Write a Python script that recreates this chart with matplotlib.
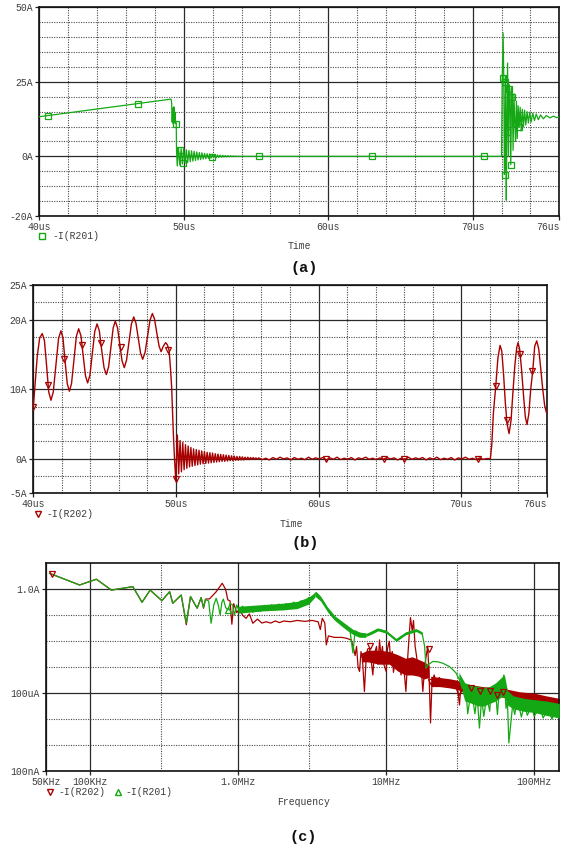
import numpy as np
import matplotlib
matplotlib.use("Agg")
import matplotlib.pyplot as plt
from matplotlib.lines import Line2D
from matplotlib.ticker import FixedLocator, NullFormatter

# ---------------- data: panel (a)  -I(R201) vs time (us) ----------------
a_main_t = [40.0, 49.12, 49.16, 49.20, 49.24, 49.28, 49.32, 49.36, 49.40, 49.44, 49.48, 49.50]
a_main_I = [13.3, 19.2, 18.2, 11.5, 16.2, 10.8, 16.6, 11.2, 14.8, 11.0, 11.2, 2.0]
a_ring1_t0 = 49.55
a_ring1_dt = 0.09
a_ring1_I = [-3.2, 2.8, -2.9, 2.6, -2.6, 2.4, -2.3, 2.2, -2.1, 2.0,
             -1.8, 1.9, -1.6, 1.7, -1.4, 1.5, -1.2, 1.3, -1.1, 1.2,
             -0.9, 1.0, -0.8, 0.9, -0.7, 0.8, -0.6, 0.7, -0.5, 0.6,
             -0.45, 0.5, -0.35, 0.4, -0.3, 0.35, -0.25, 0.3, -0.2, 0.25,
             -0.15, 0.2, -0.1, 0.15, -0.08, 0.1, -0.05, 0.06, -0.03, 0.0]
a_ring2_t = [72.00, 72.05, 72.11, 72.16, 72.20, 72.23, 72.28, 72.33, 72.37, 72.42,
             72.48, 72.53, 72.58, 72.64, 72.70, 72.75, 72.80, 72.86, 72.92, 72.97,
             73.03, 73.09, 73.15, 73.22, 73.29, 73.36, 73.44, 73.52, 73.60, 73.68,
             73.77, 73.86, 73.95, 74.05, 74.16, 74.28, 74.40, 74.55, 74.70, 74.90,
             75.10, 75.35, 75.60, 75.80, 76.00]
a_ring2_I = [0.0, 26.2, 41.4, 25.0, -6.1, -4.0, 27.0, -14.7, 8.1, 31.3,
             0.0, 24.0, 22.6, -2.8, 23.0, 19.8, 2.0, 21.0, 11.1, 5.0,
             18.5, 6.0, 17.0, 9.8, 16.5, 8.5, 15.8, 10.0, 15.5, 10.5,
             15.0, 11.2, 14.8, 11.5, 14.5, 12.0, 14.2, 12.3, 13.9, 12.6,
             13.7, 12.9, 13.5, 13.0, 13.2]
a_mark_t = [40.6, 46.8, 49.44, 49.74, 49.97, 51.94, 55.2, 63.0, 70.8,
            72.11, 72.23, 72.23, 72.37, 72.55, 72.64, 72.75, 72.94, 73.2]
a_mark_I = [13.7, 17.6, 11.0, 2.3, -2.1, -0.2, 0.0, 0.0, 0.0,
            26.2, 25.0, -6.1, 8.1, 22.6, -2.8, 19.8, 11.1, 9.8]

# ---------------- data: panel (b)  -I(R202) vs time (us) ----------------
b_main_t = [40.00, 40.12, 40.28, 40.45, 40.63, 40.78, 40.94, 41.08, 41.24,
            41.40, 41.58, 41.77, 41.94, 42.08, 42.23, 42.38, 42.53,
            42.68, 42.85, 43.02, 43.18, 43.34, 43.50, 43.66, 43.81,
            43.97, 44.14, 44.31, 44.47, 44.63, 44.79, 44.96, 45.12,
            45.28, 45.44, 45.60, 45.75, 45.91, 46.07, 46.22, 46.38,
            46.54, 46.71, 46.88, 47.04, 47.20, 47.36, 47.52, 47.67,
            47.84, 48.01, 48.18, 48.35, 48.50, 48.66, 48.82, 48.96,
            49.12, 49.28, 49.40, 49.52, 49.62, 49.70, 49.76, 49.82, 49.90, 49.99]
b_main_I = [7.4, 10.5, 14.8, 17.4, 18.0, 17.0, 13.2, 9.6, 8.4,
            9.6, 13.4, 17.3, 18.4, 17.4, 14.0, 10.8, 9.7,
            10.8, 14.2, 17.6, 18.7, 17.7, 14.8, 11.9, 10.9,
            12.0, 15.1, 18.3, 19.4, 18.4, 15.7, 13.1, 12.1,
            13.2, 16.0, 18.8, 19.8, 18.8, 16.4, 14.1, 13.1,
            14.2, 16.8, 19.4, 20.4, 19.5, 17.3, 15.2, 14.3,
            15.3, 17.6, 19.9, 20.9, 20.1, 18.1, 16.2, 15.4,
            16.2, 16.7, 16.4, 15.6, 13.0, 10.3, 7.0, 3.6, 0.0, -3.1]
b_ring_t0 = 50.10
b_ring_dt = 0.095
b_ring_I = [3.4, -2.2, 2.6, -1.9, 2.3, -1.6, 2.0, -1.4, 1.8, -1.2,
            1.6, -1.1, 1.4, -1.0, 1.3, -0.9, 1.2, -0.8, 1.1, -0.75,
            1.0, -0.7, 0.9, -0.65, 0.85, -0.6, 0.8, -0.55, 0.7, -0.5,
            0.65, -0.45, 0.6, -0.4, 0.55, -0.4, 0.5, -0.35, 0.45, -0.3,
            0.4, -0.3, 0.35, -0.25, 0.3, -0.25, 0.3, -0.2, 0.25, -0.2,
            0.2, -0.15, 0.2, -0.15, 0.15, -0.1, 0.15, -0.1, 0.1, -0.1]
b_flat_t0 = 55.8
b_flat_dt = 0.25
b_flat_I = [0.1, -0.15, 0.05, -0.2, 0.15, -0.1, 0.2, -0.05, 0.1, -0.2,
            0.15, -0.1, 0.05, -0.15, 0.2, -0.1, 0.1, -0.05, 0.15, -0.2,
            0.1, -0.1, 0.2, -0.15, 0.05, -0.1, 0.15, -0.2, 0.1, -0.05,
            0.2, -0.1, 0.05, -0.15, 0.1, -0.1, 0.15, -0.05, 0.1, -0.2,
            0.05, -0.15, 0.2, -0.1, 0.1, -0.05, 0.15, -0.2, 0.1, -0.1,
            0.2, -0.15, 0.05, -0.1, 0.15, -0.2, 0.1, -0.05, 0.2, -0.1,
            0.05, -0.15, 0.1, -0.1, 0.0]
b_end_t = [72.05, 72.15, 72.26, 72.43, 72.58, 72.73, 72.85, 72.98, 73.10, 73.22,
           73.36, 73.50, 73.63, 73.77, 73.90, 73.99, 74.10, 74.23, 74.36, 74.50,
           74.62, 74.75, 74.88, 75.02, 75.16, 75.30, 75.44, 75.58, 75.72, 75.86, 76.00]
b_end_I = [0.0, 2.0, 6.5, 10.5, 14.5, 16.3, 15.5, 12.0, 8.0, 5.0,
           3.6, 5.5, 9.5, 13.5, 16.0, 16.7, 15.8, 13.0, 9.5, 6.0,
           4.9, 6.5, 10.0, 12.6, 16.2, 16.95, 15.8, 13.0, 10.0, 7.6, 6.5]
b_mark_t = [40.0, 41.05, 42.17, 43.44, 44.75, 46.13, 49.47, 50.0,
            60.5, 64.6, 66.0, 71.2, 72.43, 73.24, 74.13, 75.0]
b_mark_I = [7.4, 10.6, 14.3, 16.3, 16.7, 16.0, 15.7, -3.0,
            0.0, 0.0, 0.0, 0.0, 10.5, 5.6, 15.0, 12.6]

# ---------------- data: panel (c)  spectra, f (Hz) vs I (A) ----------------
c_red_f = [53.1e3, 84.7e3, 110e3, 139e3, 194e3, 224e3, 254e3, 305e3, 344e3, 361e3,
           412e3, 446e3, 476e3, 528e3, 562e3, 583e3, 601e3,
           640e3, 708e3, 780e3, 822e3, 851e3, 881e3, 906e3, 933e3, 977e3, 1.023e6,
           1.07e6, 1.13e6, 1.19e6, 1.256e6, 1.35e6, 1.445e6, 1.545e6, 1.66e6, 1.78e6, 1.9e6,
           2.04e6, 2.24e6, 2.51e6, 2.82e6, 3.16e6, 3.47e6, 3.59e6, 3.70e6, 3.85e6, 3.94e6,
           4.07e6, 4.47e6, 5.01e6, 5.37e6, 5.81e6,
           6.03e6, 6.17e6, 6.31e6, 6.46e6, 6.61e6, 6.76e6, 6.92e6, 7.13e6, 7.33e6, 7.5e6,
           7.71e6, 7.94e6, 8.13e6, 8.32e6, 8.61e6, 8.81e6, 9.02e6, 9.23e6, 9.44e6, 9.66e6,
           10.0e6, 10.2e6, 10.5e6, 10.7e6, 11.0e6, 11.2e6, 11.5e6, 11.7e6, 12.0e6, 12.3e6,
           12.6e6, 12.9e6, 13.2e6, 13.6e6, 14.0e6, 14.3e6, 14.6e6, 15.0e6, 15.3e6, 15.7e6,
           16.0e6, 16.4e6, 16.8e6, 17.2e6, 17.7e6, 18.2e6, 18.6e6, 19.1e6, 19.5e6, 19.95e6,
           20.4e6, 21.1e6, 21.9e6, 22.9e6, 24.0e6, 25.1e6, 26.3e6, 27.5e6, 28.8e6, 29.7e6,
           30.5e6, 31.3e6, 32.0e6, 33.1e6, 35.5e6, 38.5e6, 41.7e6, 45.7e6, 50.1e6, 55.3e6,
           63.1e6, 71.6e6, 83.2e6, 97.7e6, 120e6, 146.6e6]
c_red_I = [4.1, 1.46, 2.43, 0.93, 1.26, 0.316, 0.93, 0.363, 0.81, 0.288,
           0.60, 0.043, 0.525, 0.186, 0.48, 0.186, 0.417,
           0.427, 0.79, 1.70, 1.0, 0.39, 0.355, 0.045, 0.28, 0.126, 0.178,
           0.10, 0.076, 0.112, 0.049, 0.071, 0.050, 0.056, 0.050, 0.060, 0.052,
           0.060, 0.056, 0.063, 0.058, 0.063, 0.056, 0.028, 0.076, 0.050, 0.0072,
           0.016, 0.014, 0.0140, 0.0130, 0.0112,
           0.0050, 0.0028, 0.0063, 0.0010, 6.8e-4, 0.0040, 0.0020, 1.15e-4, 0.0025, 0.0050,
           0.0054, 0.0016, 5.0e-4, 0.0032, 0.0063, 0.00126, 0.0112, 0.0025, 0.0063, 0.00126,
           6.8e-4, 0.0050, 0.010, 0.0020, 0.0040, 6.3e-4, 0.0016, 0.00126, 7.9e-4, 0.0020,
           5.0e-4, 0.0016, 7.9e-4, 1.15e-4, 0.0025, 0.0158, 0.081, 0.025, 0.063, 0.0063,
           0.0030, 0.0010, 5.0e-4, 0.00126, 1.15e-4, 0.0010, 0.0025, 0.0063, 5.0e-4, 7.1e-6,
           2.5e-4, 5.0e-4, 2.5e-4, 4.0e-4, 2.5e-4, 3.2e-4, 2.4e-4, 2.5e-4, 2.0e-4, 1.8e-4,
           1.26e-4, 3.5e-5, 1.8e-4, 1.6e-4, 1.4e-4, 1.5e-4, 1.26e-4, 1.3e-4, 1.12e-4, 1.15e-4,
           1.0e-4, 8.5e-5, 7.6e-5, 6.5e-5, 5.0e-5, 4.2e-5]
c_red_band1_f = [6.8e6, 7.5e6, 9e6, 10.5e6, 12e6, 13.5e6, 15e6, 16.5e6, 18e6, 19.5e6]
c_red_band1_lo = [1.6e-3, 1.6e-3, 1.3e-3, 1.3e-3, 7.0e-4, 5.0e-4, 5.0e-4, 4.5e-4, 3.5e-4, 4.0e-4]
c_red_band1_hi = [3.5e-3, 4.5e-3, 4.5e-3, 4.0e-3, 3.0e-3, 2.2e-3, 2.5e-3, 2.0e-3, 1.6e-3, 1.2e-3]
c_red_band2_f = [20e6, 23e6, 27e6, 30e6, 35e6, 45e6, 60e6, 80e6, 100e6, 120e6, 148e6]
c_red_band2_lo = [1.78e-4, 1.78e-4, 1.58e-4, 1.41e-4, 1.0e-4, 8.9e-5, 7.1e-5, 5.0e-5, 4.0e-5, 3.2e-5, 2.5e-5]
c_red_band2_hi = [4.47e-4, 4.0e-4, 3.55e-4, 3.16e-4, 2.24e-4, 1.78e-4, 1.58e-4, 1.12e-4, 1.0e-4, 7.9e-5, 6.3e-5]

c_grn_f = [53.1e3, 84.7e3, 110e3, 139e3, 194e3, 224e3, 254e3, 305e3, 344e3, 361e3,
           412e3, 446e3, 476e3, 528e3, 562e3, 583e3, 601e3,
           631e3, 656e3, 684e3, 710e3, 733e3, 755e3, 776e3, 794e3, 822e3, 851e3,
           881e3, 918e3, 944e3, 977e3, 1.02e6, 1.07e6, 1.12e6, 1.19e6,
           1.26e6, 1.33e6, 1.41e6, 1.50e6, 1.58e6, 1.68e6, 1.78e6, 1.88e6, 2.0e6, 2.11e6,
           2.24e6, 2.37e6, 2.51e6, 2.66e6, 2.82e6, 2.99e6, 3.16e6, 3.37e6, 3.55e6, 3.8e6,
           4.14e6, 4.5e6, 5.0e6, 5.37e6, 5.69e6, 5.96e6, 6.17e6, 6.61e6, 7.33e6, 8.0e6,
           8.77e6, 10.0e6, 11.7e6, 13.6e6, 15.96e6, 17.5e6, 18.2e6, 18.6e6, 19.3e6, 20.7e6,
           22.4e6, 24.2e6, 26.8e6, 28.2e6, 29.7e6, 31.3e6, 33.0e6, 34.7e6, 35.6e6, 36.6e6,
           37.3e6, 38.0e6, 39.8e6, 41.2e6, 42.7e6, 44.2e6, 45.7e6, 47.9e6, 50.1e6, 51.3e6,
           52.5e6, 55.0e6, 56.5e6, 58.3e6, 61.0e6, 62.5e6, 64.6e6, 66.0e6, 67.5e6, 71.6e6,
           74e6, 76e6, 79.4e6, 82e6, 86e6, 90e6, 96e6, 100e6, 110e6, 115e6,
           125e6, 132e6, 140e6, 146.6e6]
c_grn_I = [4.1, 1.46, 2.43, 0.93, 1.26, 0.316, 0.93, 0.363, 0.81, 0.288,
           0.60, 0.05, 0.525, 0.186, 0.48, 0.20, 0.40,
           0.355, 0.049, 0.25, 0.447, 0.25, 0.102, 0.316, 0.417, 0.20, 0.158,
           0.28, 0.25, 0.10, 0.25, 0.138, 0.224, 0.141, 0.186,
           0.13, 0.21, 0.14, 0.24, 0.15, 0.25, 0.16, 0.27, 0.17, 0.28,
           0.19, 0.32, 0.20, 0.36, 0.26, 0.48, 0.42, 0.74, 0.55, 0.30,
           0.12, 0.07, 0.045, 0.036, 0.028, 0.0035, 0.025, 0.020, 0.0174, 0.022,
           0.029, 0.0234, 0.0112, 0.020, 0.027, 0.020, 0.0063, 0.0009, 0.00126, 0.00166,
           0.0016, 0.00141, 0.00105, 0.0008, 5.9e-4, 3.2e-4, 1.55e-4, 1.0e-4, 1.6e-5, 4.7e-5,
           1.5e-4, 1.0e-4, 1.6e-5, 8.0e-5, 4.5e-6, 6.3e-5, 1.26e-5, 8.0e-5, 2.0e-5, 1.2e-4,
           4.7e-5, 1.0e-4, 1.5e-5, 1.6e-4, 2.5e-4, 5.0e-4, 2.6e-5, 5.0e-5, 1.2e-6, 3.5e-5,
           1.5e-5, 4.0e-5, 2.8e-5, 1.2e-5, 3.5e-5, 1.4e-5, 3.2e-5, 1.3e-5, 2.8e-5, 1.1e-5,
           2.5e-5, 1.0e-5, 2.2e-5, 1.48e-5]
c_grn_band0_f = [1.0e6, 1.5e6, 2.0e6, 2.5e6, 3.0e6, 3.3e6]
c_grn_band0_lo = [0.12, 0.148, 0.16, 0.18, 0.27, 0.50]
c_grn_band0_hi = [0.22, 0.26, 0.29, 0.34, 0.50, 0.76]
c_grn_band1_f = [3.3e6, 3.6e6, 4.0e6, 4.5e6, 5.0e6, 5.5e6, 6.0e6, 6.6e6, 7.3e6]
c_grn_band1_lo = [0.54, 0.355, 0.141, 0.063, 0.038, 0.025, 0.0178, 0.0141, 0.0141]
c_grn_band1_hi = [0.81, 0.54, 0.214, 0.095, 0.060, 0.040, 0.028, 0.0224, 0.021]
c_grn_band2_f = [7.3e6, 8.0e6, 8.8e6, 10e6, 11.7e6, 13.6e6, 16e6, 17.5e6]
c_grn_band2_lo = [0.0151, 0.019, 0.025, 0.0204, 0.0098, 0.0178, 0.0234, 0.0178]
c_grn_band2_hi = [0.0195, 0.0245, 0.032, 0.0263, 0.0126, 0.0229, 0.030, 0.0229]
c_grn_band3_f = [31e6, 34e6, 38e6, 42e6, 46e6, 50e6, 55e6, 60e6, 63e6, 66e6, 72e6, 85e6, 100e6, 120e6, 148e6]
c_grn_band3_lo = [3.16e-4, 5.0e-5, 4.0e-5, 3.2e-5, 3.2e-5, 4.0e-5, 5.0e-5, 7.1e-5, 7.1e-5, 3.5e-5, 2.5e-5, 2.0e-5, 1.8e-5, 1.4e-5, 1.1e-5]
c_grn_band3_hi = [6.3e-4, 2.5e-4, 2.0e-4, 1.8e-4, 1.6e-4, 1.8e-4, 2.5e-4, 4.0e-4, 5.0e-4, 1.26e-4, 7.9e-5, 6.3e-5, 5.6e-5, 5.0e-5, 4.0e-5]
c_red_mark_f = [55.3e3, 7.76e6, 19.4e6, 20.1e6, 30.9e6, 37.2e6, 43.2e6, 50.1e6, 56.2e6, 61.7e6]
c_red_mark_I = [3.8, 6.8e-3, 5.0e-3, 2.6e-4, 1.15e-4, 1.55e-4, 1.26e-4, 1.26e-4, 8.5e-5, 1.15e-4]
c_grn_mark_f = [851e3]
c_grn_mark_I = [0.158]

# tick labels
a_xticks = [40, 50, 60, 70, 76]
a_xlabels = ["40us", "50us", "60us", "70us", "76us"]
a_yticks = [-20, 0, 25, 50]
a_ylabels = ["-20A", "0A", "25A", "50A"]
b_xticks = [40, 50, 60, 70, 76]
b_xlabels = ["40us", "50us", "60us", "70us", "76us"]
b_yticks = [-5, 0, 10, 20, 25]
b_ylabels = ["-5A", "0A", "10A", "20A", "25A"]
c_xticks = [50e3, 100e3, 1e6, 10e6, 100e6]
c_xlabels = ["50KHz", "100KHz", "1.0MHz", "10MHz", "100MHz"]
c_yticks = [1e-7, 1e-4, 1.0]
c_ylabels = ["100nA", "100uA", "1.0A"]

# ---------------- style ----------------
W, H = 569, 849
GREEN = "#14a814"
RED = "#a80000"
TXT = "#3c3c3c"
MONO = ["Liberation Mono", "DejaVu Sans Mono"]
plt.rcParams["font.family"] = MONO

fig = plt.figure(figsize=(W / 100, H / 100), dpi=100)


def box(l, t, r, b):
    return [l / W, 1 - b / H, (r - l) / W, (b - t) / H]


def fx(x):
    return x / W


def fy(y):
    return 1 - y / H


def style_axes(ax, xt, xl, yt, yl, xminor, yminor, last_right=False):
    ax.set_xticks(xt)
    ax.set_xticklabels(xl)
    ax.set_yticks(yt)
    ax.set_yticklabels(yl)
    ax.xaxis.set_minor_locator(FixedLocator(xminor))
    ax.yaxis.set_minor_locator(FixedLocator(yminor))
    ax.xaxis.set_minor_formatter(NullFormatter())
    ax.yaxis.set_minor_formatter(NullFormatter())
    ax.tick_params(which="major", length=3, width=0.9, color="#222222",
                   labelsize=7, labelcolor=TXT, pad=1.5)
    ax.tick_params(axis="x", which="major", pad=1.0)
    ax.tick_params(which="minor", length=0)
    ax.grid(which="major", color="#2a2a2a", lw=0.9, ls="-")
    ax.grid(which="minor", color="#4a4a4a", lw=0.8, ls=(0, (1, 1.2)))
    ax.set_axisbelow(True)
    for s in ax.spines.values():
        s.set_color("#111111")
        s.set_linewidth(1.2)
    if last_right:
        ax.get_xticklabels()[-1].set_horizontalalignment("right")


def legend_item(x, y, marker, color, text, tx):
    fig.add_artist(Line2D([fx(x)], [fy(y)], marker=marker, ms=4.5, mfc="none",
                          mec=color, mew=1.0, ls="none", transform=fig.transFigure))
    fig.text(fx(tx), fy(y), text, fontsize=7, color=TXT, ha="left", va="center")


# ---------------- panel (a) ----------------
ax_a = fig.add_axes(box(39.3, 7.3, 559.3, 216))
ring1_t = a_ring1_t0 + a_ring1_dt * np.arange(len(a_ring1_I))
t_a = np.concatenate([a_main_t, ring1_t, a_ring2_t])
I_a = np.concatenate([a_main_I, a_ring1_I, a_ring2_I])
ax_a.plot(t_a, I_a, color=GREEN, lw=0.9, zorder=3)
ax_a.plot(a_mark_t, a_mark_I, ls="none", marker="s", ms=4, mfc="none", mec=GREEN, mew=0.9, zorder=4)
ax_a.set_xlim(40, 76)
ax_a.set_ylim(-20, 50)
style_axes(ax_a, a_xticks, a_xlabels, a_yticks, a_ylabels,
           [42, 44, 46, 48, 52, 54, 56, 58, 62, 64, 66, 68, 72, 74],
           [-15, -10, -5, 5, 10, 15, 20, 30, 35, 40, 45], last_right=True)
legend_item(41.7, 236, "s", GREEN, "-I(R201)", 52)
fig.text(fx(299.5), fy(245.7), "Time", fontsize=7, color=TXT, ha="center", va="center")
fig.text(fx(304), fy(268), "(a)", fontsize=11, color="#111111", ha="center", va="center",
         fontweight="bold")

# ---------------- panel (b) ----------------
ax_b = fig.add_axes(box(33.3, 285, 546.7, 493.3))
ring_t = b_ring_t0 + b_ring_dt * np.arange(len(b_ring_I))
flat_t = b_flat_t0 + b_flat_dt * np.arange(len(b_flat_I))
t_b = np.concatenate([b_main_t, ring_t, flat_t, b_end_t])
I_b = np.concatenate([b_main_I, b_ring_I, b_flat_I, b_end_I])
ax_b.plot(t_b, I_b, color=RED, lw=1.0, zorder=3)
ax_b.plot(b_mark_t, b_mark_I, ls="none", marker="v", ms=4.5, mfc="none", mec=RED, mew=0.9, zorder=4)
ax_b.set_xlim(40, 76)
ax_b.set_ylim(-5, 25)
style_axes(ax_b, b_xticks, b_xlabels, b_yticks, b_ylabels,
           [42, 44, 46, 48, 52, 54, 56, 58, 62, 64, 66, 68, 72, 74],
           [-2.5, 2.5, 5, 7.5, 12.5, 15, 17.5, 22.5], last_right=True)
legend_item(37.7, 514.3, "v", RED, "-I(R202)", 46)
fig.text(fx(291), fy(524), "Time", fontsize=7, color=TXT, ha="center", va="center")
fig.text(fx(305), fy(543), "(b)", fontsize=11, color="#111111", ha="center", va="center",
         fontweight="bold")

# ---------------- panel (c) ----------------
ax_c = fig.add_axes(box(45.7, 563.3, 559.3, 771))
ax_c.set_xscale("log")
ax_c.set_yscale("log")
ax_c.fill_between(c_red_band1_f, c_red_band1_lo, c_red_band1_hi, color=RED, lw=0, zorder=2)
ax_c.fill_between(c_red_band2_f, c_red_band2_lo, c_red_band2_hi, color=RED, lw=0, zorder=2)
ax_c.plot(c_red_f, c_red_I, color=RED, lw=0.9, zorder=2.5)
for bf, blo, bhi in [(c_grn_band0_f, c_grn_band0_lo, c_grn_band0_hi),
                     (c_grn_band1_f, c_grn_band1_lo, c_grn_band1_hi),
                     (c_grn_band2_f, c_grn_band2_lo, c_grn_band2_hi),
                     (c_grn_band3_f, c_grn_band3_lo, c_grn_band3_hi)]:
    ax_c.fill_between(bf, blo, bhi, color=GREEN, lw=0, zorder=3)
ax_c.plot(c_grn_f, c_grn_I, color=GREEN, lw=0.9, zorder=3.5)
ax_c.plot(c_red_mark_f, c_red_mark_I, ls="none", marker="v", ms=4.5, mfc="none", mec=RED, mew=0.9, zorder=5)
ax_c.plot(c_grn_mark_f, c_grn_mark_I, ls="none", marker="^", ms=4.5, mfc="none", mec=GREEN, mew=0.9, zorder=5)
ax_c.set_xlim(50e3, 148e6)
ax_c.set_ylim(1e-7, 10)
style_axes(ax_c, c_xticks, c_xlabels, c_yticks, c_ylabels,
           [300e3, 3e6, 30e6],
           [1e-6, 1e-5, 1e-3, 1e-2, 1e-1])
legend_item(50, 791.7, "v", RED, "-I(R202)", 58.5)
legend_item(118.3, 791.7, "^", GREEN, "-I(R201)", 125.5)
fig.text(fx(304), fy(802), "Frequency", fontsize=7, color=TXT, ha="center", va="center")
fig.text(fx(303.5), fy(837), "(c)", fontsize=11, color="#111111", ha="center", va="center",
         fontweight="bold")

fig.savefig("out.png", dpi=100)
